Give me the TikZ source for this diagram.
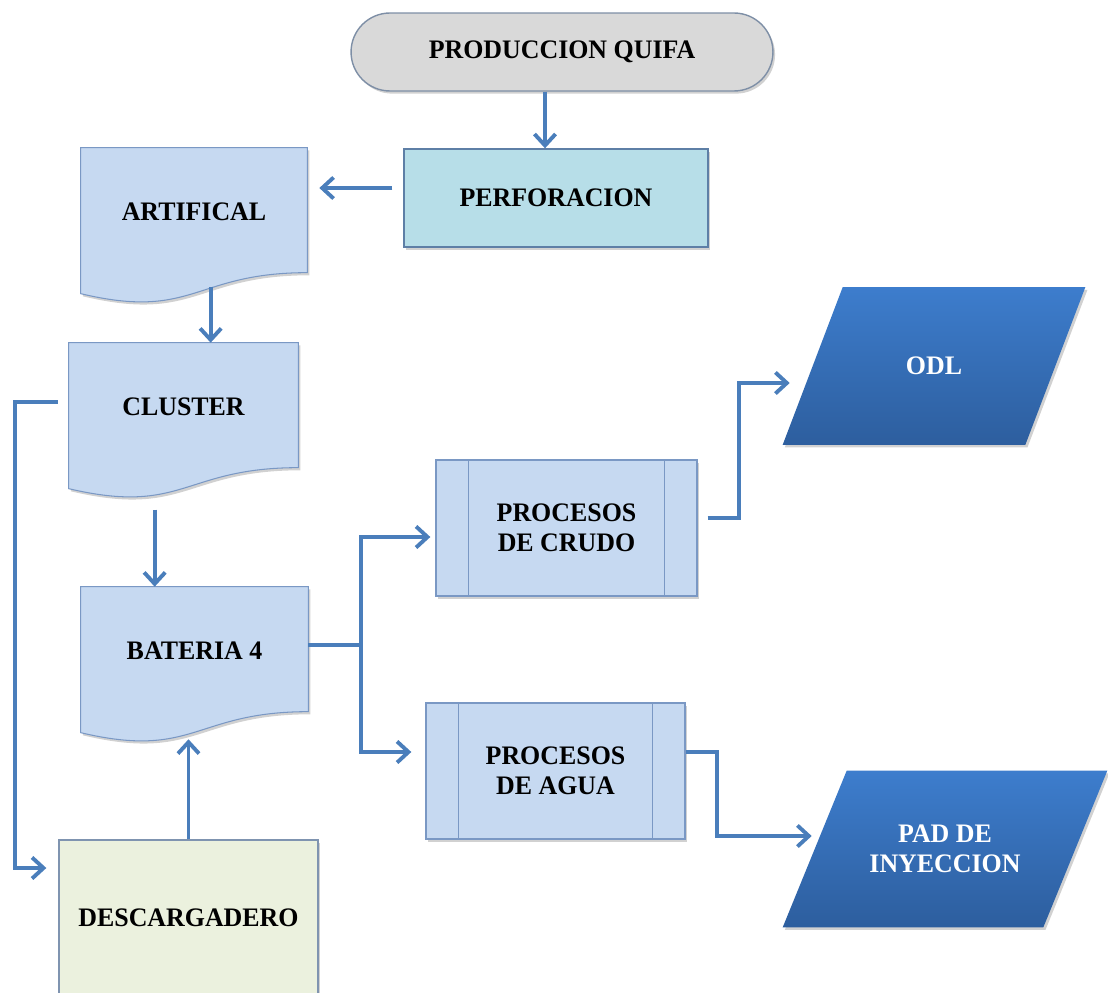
\documentclass[tikz,border=0pt]{standalone}
\usepackage{fontspec}
\setmainfont{Liberation Serif}[FakeStretch=0.97]
\usetikzlibrary{shapes.misc,arrows.meta,calc,backgrounds,shadows}
\definecolor{conncol}{HTML}{4A7EBB}
\definecolor{termfill}{HTML}{D9D9D9}
\definecolor{termline}{HTML}{7E8FA6}
\definecolor{perffill}{HTML}{B7DEE8}
\definecolor{perfline}{HTML}{5E7FA6}
\definecolor{docfill}{HTML}{C6D9F1}
\definecolor{docline}{HTML}{7A98C4}
\definecolor{descfill}{HTML}{EBF1DE}
\definecolor{descline}{HTML}{7F94B0}
\definecolor{paratop}{HTML}{3D7DCD}
\definecolor{parabot}{HTML}{2D5E9E}
\tikzset{
  txt/.style={font=\fontsize{15.2}{17}\selectfont\bfseries, align=center, inner sep=0pt, text=black},
  conn/.style={draw=conncol, line width=2.2pt, -{Straight Barb[length=6.5pt,width=12pt]}},
  plainline/.style={draw=conncol, line width=2.2pt},
  shad/.style={drop shadow={shadow xshift=1.2pt,shadow yshift=-1.5pt,opacity=0.3,fill=black!60}},
  docsh/.style={fill=docfill, draw=docline, line width=0.6pt, shad},
  parash/.style={top color=paratop, bottom color=parabot, shad},
  boxline/.style={line width=0.8pt},
}
\begin{document}
\begin{tikzpicture}[x=0.02cm,y=-0.02cm]
\useasboundingbox (0,0) rectangle (1108,993);

% nodes
\node[txt, rounded rectangle, minimum width=8.44cm, minimum height=1.56cm,
      fill=termfill, draw=termline, boxline, shad] (term) at (562,52) {PRODUCCION QUIFA};
\node[txt, rectangle, minimum width=6.08cm, minimum height=1.96cm,
      fill=perffill, draw=perfline, boxline, shad] (perf) at (556,198) {PERFORACION};
\node[txt, minimum width=4.52cm, minimum height=2.56cm] (art) at (194,212) {ARTIFICAL};
\node[txt, minimum width=4.58cm, minimum height=2.56cm] (clu) at (183.5,407) {CLUSTER};
\node[txt, minimum width=4.54cm, minimum height=2.56cm] (bat) at (194.5,651) {BATERIA 4};
\node[txt, minimum width=5.18cm, minimum height=3.12cm,
      fill=descfill, draw=descline, boxline, shad] (desc) at (188.5,918) {DESCARGADERO};
\node[txt, minimum width=5.22cm, minimum height=2.72cm,
      fill=docfill, draw=docline, boxline, shad] (cru) at (566.5,528) {PROCESOS\\DE CRUDO};
\node[txt, minimum width=5.18cm, minimum height=2.72cm,
      fill=docfill, draw=docline, boxline, shad] (agua) at (555.5,771) {PROCESOS\\DE AGUA};
\node[txt, text=white, minimum width=6.04cm, minimum height=3.14cm] (odl) at (934,366) {ODL};
\node[txt, text=white, minimum width=6.48cm, minimum height=3.12cm] (pad) at (945,849) {PAD DE\\INYECCION};

% predefined process inner lines
\foreach \n in {cru,agua}{
  \draw[docline, line width=0.6pt] ($(\n.north west)+(33,0)$) -- ($(\n.south west)+(33,0)$);
  \draw[docline, line width=0.6pt] ($(\n.north east)+(-33,0)$) -- ($(\n.south east)+(-33,0)$);
}

% shapes behind
\begin{pgfonlayer}{background}
\foreach \n in {art,clu,bat}{
  \path[docsh] (\n.north west) -- (\n.north east) -- ($(\n.north east)+(0,125)$)
     .. controls ($(\n.north)+(0,125)$) and ($(\n.north)+(0,173)$) .. ($(\n.north west)+(0,146)$) -- cycle;
}
\path[parash] (odl.south west) -- ($(odl.north west)+(60,0)$) -- (odl.north east) -- ($(odl.south east)+(-60,0)$) -- cycle;
\path[parash] (pad.south west) -- ($(pad.north west)+(64,0)$) -- (pad.north east) -- ($(pad.south east)+(-64,0)$) -- cycle;
\end{pgfonlayer}

% connectors
\draw[conn] ($(term.south)+(-17,0)$) coordinate (c1) -- (c1 |- perf.north);
\draw[conn] ($(perf.west)+(-11,-10)$) coordinate (c2) -- ($(c2 -| art.east)+(12,0)$);
\draw[conn] ($(art.north west)+(130,139)$) coordinate (c3) -- (c3 |- clu.north);
\draw[conn] ($(clu.north west)+(86,167)$) coordinate (c4) -- (c4 |- bat.north);
\draw[conn] ($(clu.west)+(-11,-5)$) -- ++(-43,0) |- ($(desc.west)+(-12,-50)$);
\draw[conn] (desc.north) -- ++(0,-100);
\draw[plainline] ($(bat.east)+(0,-6)$) -- ++(53,0) coordinate (br);
\draw[conn] (br) |- ($(cru.west)+(-5,9)$);
\draw[conn] (br) |- ($(agua.west)+(-14,-19)$);
\draw[conn] ($(cru.east)+(10,-10)$) -- ++(31,0) |- ($(odl.west)+(7,17)$);
\draw[conn] ($(agua.east)+(0,-19)$) -- ++(31,0) |- ($(pad.west)+(29,-13)$);
\end{tikzpicture}
\end{document}
